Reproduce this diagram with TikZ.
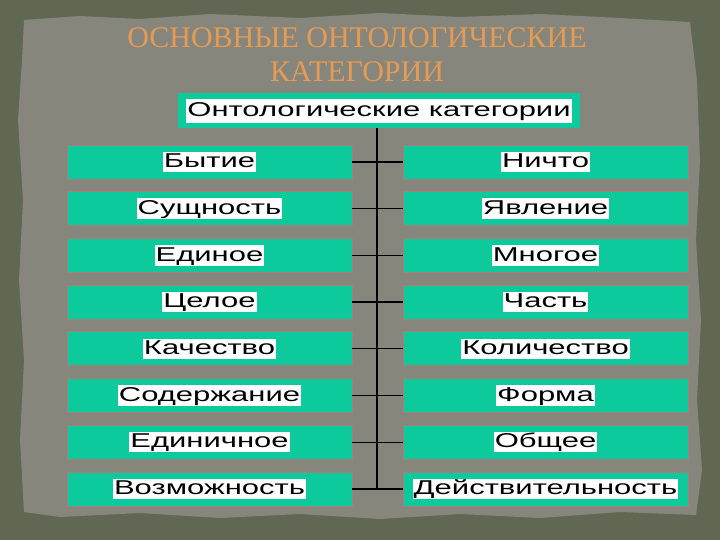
\documentclass[tikz,border=0pt]{standalone}
\usepackage{fontspec}
\setmainfont{Liberation Sans}
\newfontfamily\titlefont{Liberation Serif}
\usepackage{graphicx}
\definecolor{bgolive}{RGB}{96,104,84}
\definecolor{paper}{RGB}{134,134,124}
\definecolor{teal}{RGB}{12,202,155}
\definecolor{edge}{RGB}{165,128,122}
\definecolor{titleor}{RGB}{230,155,85}
\newcommand{\lbl}[1]{\scalebox{1.55}[1]{#1}}
\tikzset{
  catbox/.style={fill=teal, draw=edge, line width=0.8pt, minimum width=285pt, minimum height=34pt, inner sep=0pt},
  lbltext/.style={fill=white, inner sep=1pt, text height=15pt, text depth=3.5pt, font=\fontsize{20}{22}\selectfont},
  conn/.style={line width=1.3pt, black},
}
\begin{document}
\begin{tikzpicture}[x=1pt,y=-1pt]
\useasboundingbox (0,0) rectangle (720,540);
\fill[bgolive] (0,0) rectangle (720,540);
\fill[paper] (24,20) -- (80,16) -- (140,19) -- (210,14) -- (300,18) -- (380,13) -- (460,17) -- (540,14) -- (620,18) -- (690,22)
  -- (697,80) -- (700,160) -- (696,240) -- (701,320) -- (697,400) -- (702,470) -- (696,515)
  -- (620,512) -- (540,518) -- (460,514) -- (380,519) -- (300,514) -- (220,518) -- (140,513) -- (60,517) -- (24,512)
  -- (20,440) -- (24,360) -- (19,280) -- (23,200) -- (18,120) -- (22,60) -- cycle;
\node[text=titleor, font=\titlefont\fontsize{30}{34}\selectfont, align=center] (title) at (357,55)
  {ОСНОВНЫЕ ОНТОЛОГИЧЕСКИЕ\\КАТЕГОРИИ};
\node[fill=teal, minimum width=402pt, minimum height=35pt, inner sep=0pt] (top) at (379,110.5) {};
\fill[white] (186,99) rectangle (572,123);
\node[lbltext, fill=none] (toplbl) at (379,111) {\lbl{Онтологические категории}};
\foreach \i/\l/\r in {1/Бытие/Ничто, 2/Сущность/Явление, 3/Единое/Многое, 4/Целое/Часть,
  5/Качество/Количество, 6/Содержание/Форма, 7/Единичное/Общее, 8/Возможность/Действительность}{
  \pgfmathsetmacro{\yy}{162+(\i-1)*46.7}
  \node[catbox] (L\i) at (209.5,\yy) {};
  \node[catbox] (R\i) at (545.5,\yy) {};
  \node[lbltext] (Lt\i) at (209.5,\yy) {\lbl{\l}};
  \node[lbltext] (Rt\i) at (545.5,\yy) {\lbl{\r}};
  \draw[conn] (L\i.east) -- (R\i.west);
}
\coordinate (vend) at (377,489);
\draw[conn] (top.south -| vend) -- (vend);
\end{tikzpicture}
\end{document}
